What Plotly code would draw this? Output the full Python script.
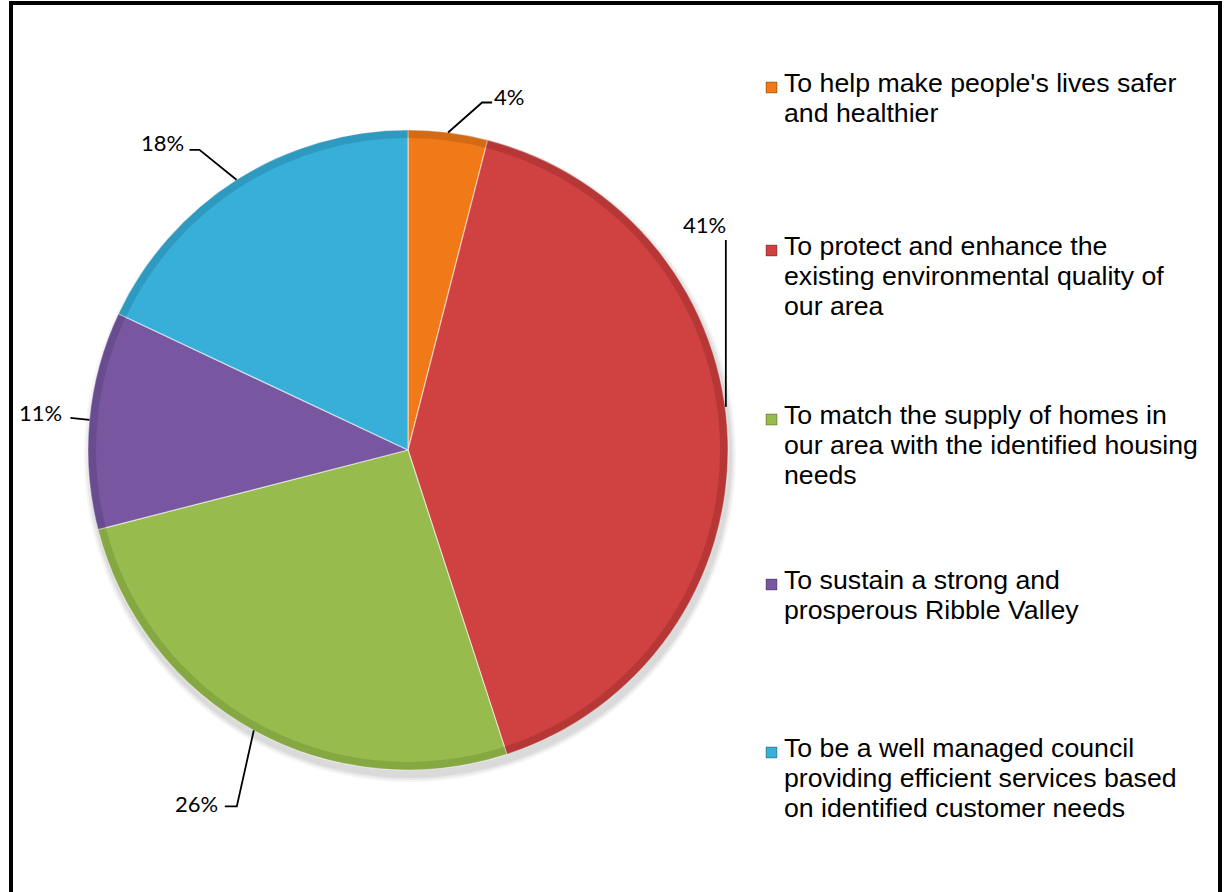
import math
import plotly.graph_objects as go

# Survey results: share of respondents choosing each council priority
categories = [
    "To help make people's lives safer and healthier",
    "To protect and enhance the existing environmental quality of our area",
    "To match the supply of homes in our area with the identified housing needs",
    "To sustain a strong and prosperous Ribble Valley",
    "To be a well managed council providing efficient services based on identified customer needs",
]
legend_lines = [
    ["To help make people's lives safer", "and healthier"],
    ["To protect and enhance the", "existing environmental quality of", "our area"],
    ["To match the supply of homes in", "our area with the identified housing", "needs"],
    ["To sustain a strong and", "prosperous Ribble Valley"],
    ["To be a well managed council", "providing efficient services based", "on identified customer needs"],
]
values = [4, 41, 26, 11, 18]
colors = ["#EF7A17", "#D04242", "#97BC4D", "#7857A0", "#38AFD8"]
rim_colors = ["rgba(150,70,10,0.30)", "rgba(120,30,30,0.28)", "rgba(90,120,40,0.28)",
              "rgba(70,45,100,0.28)", "rgba(20,100,130,0.28)"]

W, H = 1224, 892
CX, CY, R = 408, 450, 320          # pie centre and radius in pixels
LABEL_FONT = dict(family="Lato, 'Open Sans', sans-serif", size=22, color="black")
LEGEND_FONT = dict(family="'Liberation Sans', Arial, sans-serif", size=26.7, color="black")

fig = go.Figure()

pie_domain = dict(x=[(CX - R) / W, (CX + R) / W], y=[1 - (CY + R) / H, 1 - (CY - R) / H])

fig.add_trace(go.Pie(
    labels=categories,
    values=values,
    sort=False,
    direction="clockwise",
    rotation=0,
    marker=dict(colors=colors, line=dict(color="rgba(255,255,255,0.55)", width=1.2)),
    textinfo="none",
    hoverinfo="label+percent",
    showlegend=False,
    domain=pie_domain,
))
# darker bevel rim along the outer edge of each slice
fig.add_trace(go.Pie(
    labels=categories,
    values=values,
    sort=False,
    direction="clockwise",
    rotation=0,
    hole=0.975,
    marker=dict(colors=rim_colors, line=dict(width=0)),
    textinfo="none",
    hoverinfo="skip",
    showlegend=False,
    domain=pie_domain,
))

# Invisible pixel-space axes used for leader lines, labels and the legend
fig.update_layout(
    xaxis=dict(range=[0, W], visible=False, fixedrange=True),
    yaxis=dict(range=[H, 0], visible=False, fixedrange=True),
)

shapes = []
annotations = []

# soft shadow beneath the pie
for k, a in enumerate([0.04, 0.05, 0.06]):
    g = 6 - 2 * k
    shapes.append(dict(type="circle", xref="x", yref="y", layer="below",
                       x0=CX - R - g + 2, x1=CX + R + g + 2, y0=CY - R - g + 6, y1=CY + R + g + 6,
                       fillcolor=f"rgba(0,0,0,{a})", line=dict(width=0)))

total = sum(values)
# leader-line geometry per slice: offsets of the path points from the edge point, label offset
leaders = [
    dict(path=[(34, -30), (44, -30)], label=(44, -36), anchor="left"),
    dict(path=None, label=None, anchor="right"),
    dict(path=[(-17, 76), (-29, 76)], label=(-34, 73), anchor="right"),
    dict(path=[(-19, -2)], label=(-25, -7), anchor="right"),
    dict(path=[(-37, -30), (-47, -30)], label=(-51, -37), anchor="right"),
]

cum = 0
for v, ld in zip(values, leaders):
    mid = (cum + v / 2) / total * 2 * math.pi
    cum += v
    ex = CX + R * math.sin(mid)
    ey = CY - R * math.cos(mid)
    pct = f"{round(v / total * 100)}%"
    if ld["path"] is None:
        # long vertical leader rising from the right edge of the big slice
        lx = ex - 2
        y0 = CY - math.sqrt(max(R * R - (lx - CX) ** 2, 0)) - 6
        y1 = 240
        shapes.append(dict(type="line", xref="x", yref="y", x0=lx, y0=y0, x1=lx, y1=y1,
                           line=dict(color="black", width=1.8)))
        annotations.append(dict(x=lx + 2, y=y1 - 16, xref="x", yref="y", text=pct,
                                showarrow=False, xanchor="right", yanchor="middle",
                                font=LABEL_FONT))
        continue
    pts = [(ex, ey)] + [(ex + dx, ey + dy) for dx, dy in ld["path"]]
    d = "M " + " L ".join(f"{x:.1f},{y:.1f}" for x, y in pts)
    shapes.append(dict(type="path", xref="x", yref="y", path=d,
                       line=dict(color="black", width=1.8)))
    annotations.append(dict(x=ex + ld["label"][0], y=ey + ld["label"][1], xref="x", yref="y",
                            text=pct, showarrow=False, xanchor=ld["anchor"], yanchor="middle",
                            font=LABEL_FONT))

# Legend: coloured square plus wrapped text, one annotation per text line
legend_baselines = [[92, 122], [255, 285, 315], [424, 454, 484], [589, 619], [757, 787, 817]]
for lines, col, bases in zip(legend_lines, colors, legend_baselines):
    b0 = bases[0]
    shapes.append(dict(type="rect", xref="x", yref="y", x0=766, x1=777, y0=b0 - 10, y1=b0 + 1,
                       fillcolor=col, line=dict(color="rgba(0,0,0,0.3)", width=1)))
    for line, b in zip(lines, bases):
        annotations.append(dict(x=782, y=b - 9, xref="x", yref="y", text=line,
                                showarrow=False, xanchor="left", yanchor="middle", align="left",
                                font=LEGEND_FONT))

# Chart frame
shapes.append(dict(type="rect", xref="x", yref="y", x0=11, x1=1220, y0=3, y1=910,
                   line=dict(color="black", width=4), fillcolor="rgba(0,0,0,0)"))

fig.update_layout(
    width=W, height=H,
    margin=dict(l=0, r=0, t=0, b=0),
    paper_bgcolor="white",
    plot_bgcolor="white",
    shapes=shapes,
    annotations=annotations,
)

fig.write_html("out.html")
